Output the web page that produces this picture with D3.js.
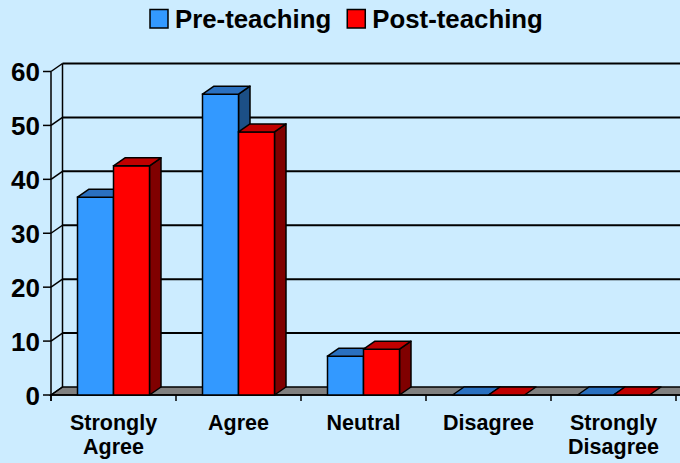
<!DOCTYPE html>
<html>
<head>
<meta charset="utf-8">
<script src="https://cdn.jsdelivr.net/npm/d3@7/dist/d3.min.js"></script>
<style>
  html, body { margin: 0; padding: 0; background: #CCECFF; }
  svg { display: block; }
  text { font-family: "Liberation Sans", Arial, sans-serif; font-weight: bold; fill: #000; }
</style>
</head>
<body>
<svg id="chart"></svg>
<script>
// data
var categories = [["Strongly", "Agree"], ["Agree"], ["Neutral"], ["Disagree"], ["Strongly", "Disagree"]];
var preTeaching = [36.7, 55.8, 7.2, 0, 0];
var postTeaching = [42.5, 48.8, 8.5, 0, 0];
var seriesNames = ["Pre-teaching", "Post-teaching"];
var yTicks = [0, 10, 20, 30, 40, 50, 60];

var width = 680, height = 463;
var svg = d3.select("#chart").attr("width", width).attr("height", height);

svg.append("rect").attr("width", width).attr("height", height).attr("fill", "#CCECFF");

// depth offset of the 3d box
var dx = 11.5, dy = -8;

var colors = [
  {front: "#3399FF", top: "#2A70C0", side: "#1C4F86"},
  {front: "#FF0000", top: "#C00000", side: "#800000"}
];

var y = d3.scaleLinear().domain([0, 60]).range([395, 71.5]);
var x0 = d3.scaleBand().domain(d3.range(categories.length)).range([51, 676]);
var x1 = d3.scaleBand().domain([0, 1]).range([26.5, 98.5]);

var g = svg.append("g");

// floor
var floorRight = 700;
g.append("path")
  .attr("d", "M" + x0.range()[0] + "," + y(0) + " L" + (x0.range()[0] + dx) + "," + (y(0) + dy) +
    " L" + floorRight + "," + (y(0) + dy) + " L" + floorRight + "," + y(0) + " Z")
  .attr("fill", "#808080").attr("stroke", "#000").attr("stroke-width", 1.5);

// back wall gridlines and left wall diagonals
yTicks.forEach(function(t) {
  if (t > 0) {
    g.append("line")
      .attr("x1", x0.range()[0] + dx).attr("x2", floorRight)
      .attr("y1", y(t) + dy).attr("y2", y(t) + dy)
      .attr("stroke", "#000").attr("stroke-width", 2);
  }
  g.append("line")
    .attr("x1", x0.range()[0]).attr("y1", y(t))
    .attr("x2", x0.range()[0] + dx).attr("y2", y(t) + dy)
    .attr("stroke", "#000").attr("stroke-width", 1.5);
  g.append("line")
    .attr("x1", x0.range()[0] - 8).attr("x2", x0.range()[0])
    .attr("y1", y(t)).attr("y2", y(t))
    .attr("stroke", "#000").attr("stroke-width", 1.5);
  g.append("text")
    .attr("x", 40).attr("y", y(t)).attr("dy", "0.37em")
    .attr("text-anchor", "end")
    .style("font-size", "26px")
    .text(t);
});

// back wall left edge
g.append("line")
  .attr("x1", x0.range()[0] + dx).attr("x2", x0.range()[0] + dx)
  .attr("y1", y(60) + dy).attr("y2", y(0) + dy)
  .attr("stroke", "#000").attr("stroke-width", 1.5);

// front axes
g.append("line")
  .attr("x1", x0.range()[0]).attr("x2", x0.range()[0])
  .attr("y1", y(60)).attr("y2", y(0) + 6)
  .attr("stroke", "#000").attr("stroke-width", 1.5);
g.append("line")
  .attr("x1", x0.range()[0]).attr("x2", floorRight)
  .attr("y1", y(0)).attr("y2", y(0))
  .attr("stroke", "#000").attr("stroke-width", 1.5);

d3.range(categories.length + 1).forEach(function(i) {
  var xx = x0.range()[0] + i * x0.bandwidth();
  g.append("line")
    .attr("x1", xx).attr("x2", xx)
    .attr("y1", y(0)).attr("y2", y(0) + 6)
    .attr("stroke", "#000").attr("stroke-width", 1.5);
});

// bars
var barData = [];
categories.forEach(function(c, i) {
  barData.push({cat: i, s: 0, v: preTeaching[i]});
  barData.push({cat: i, s: 1, v: postTeaching[i]});
});

var bars = g.selectAll(".bar").data(barData).enter().append("g").attr("class", "bar");

bars.each(function(d) {
  var el = d3.select(this);
  var xl = x0(d.cat) + x1(d.s), xr = xl + x1.bandwidth();
  var yt = y(d.v), yb = y(0);
  var c = colors[d.s];
  if (d.v > 0) {
    el.append("path")
      .attr("d", "M" + xr + "," + yt + " L" + (xr + dx) + "," + (yt + dy) + " L" + (xr + dx) + "," + (yb + dy) + " L" + xr + "," + yb + " Z")
      .attr("fill", c.side).attr("stroke", "#000").attr("stroke-width", 1.5).attr("stroke-linejoin", "round");
    el.append("rect")
      .attr("x", xl).attr("y", yt).attr("width", xr - xl).attr("height", yb - yt)
      .attr("fill", c.front).attr("stroke", "#000").attr("stroke-width", 1.5);
  }
  el.append("path")
    .attr("d", "M" + xl + "," + yt + " L" + (xl + dx) + "," + (yt + dy) + " L" + (xr + dx) + "," + (yt + dy) + " L" + xr + "," + yt + " Z")
    .attr("fill", c.top).attr("stroke", "#000").attr("stroke-width", 1.5).attr("stroke-linejoin", "round");
});

// category labels
categories.forEach(function(lines, i) {
  var t = g.append("text")
    .attr("x", x0(i) + x0.bandwidth() / 2)
    .attr("y", 430)
    .attr("text-anchor", "middle")
    .style("font-size", "21.5px");
  lines.forEach(function(l, k) {
    t.append("tspan").attr("x", x0(i) + x0.bandwidth() / 2).attr("dy", k === 0 ? 0 : 24).text(l);
  });
});

// legend
var legend = svg.append("g");
var lx = 150;
seriesNames.forEach(function(name, i) {
  legend.append("rect")
    .attr("x", lx).attr("y", 9.5).attr("width", 18).attr("height", 18.5)
    .attr("fill", colors[i].front).attr("stroke", "#000").attr("stroke-width", 1.5);
  var t = legend.append("text")
    .attr("x", lx + 25).attr("y", 27.5)
    .style("font-size", "25.8px")
    .text(name);
  lx = lx + 25 + t.node().getComputedTextLength() + 16;
});
</script>
</body>
</html>
